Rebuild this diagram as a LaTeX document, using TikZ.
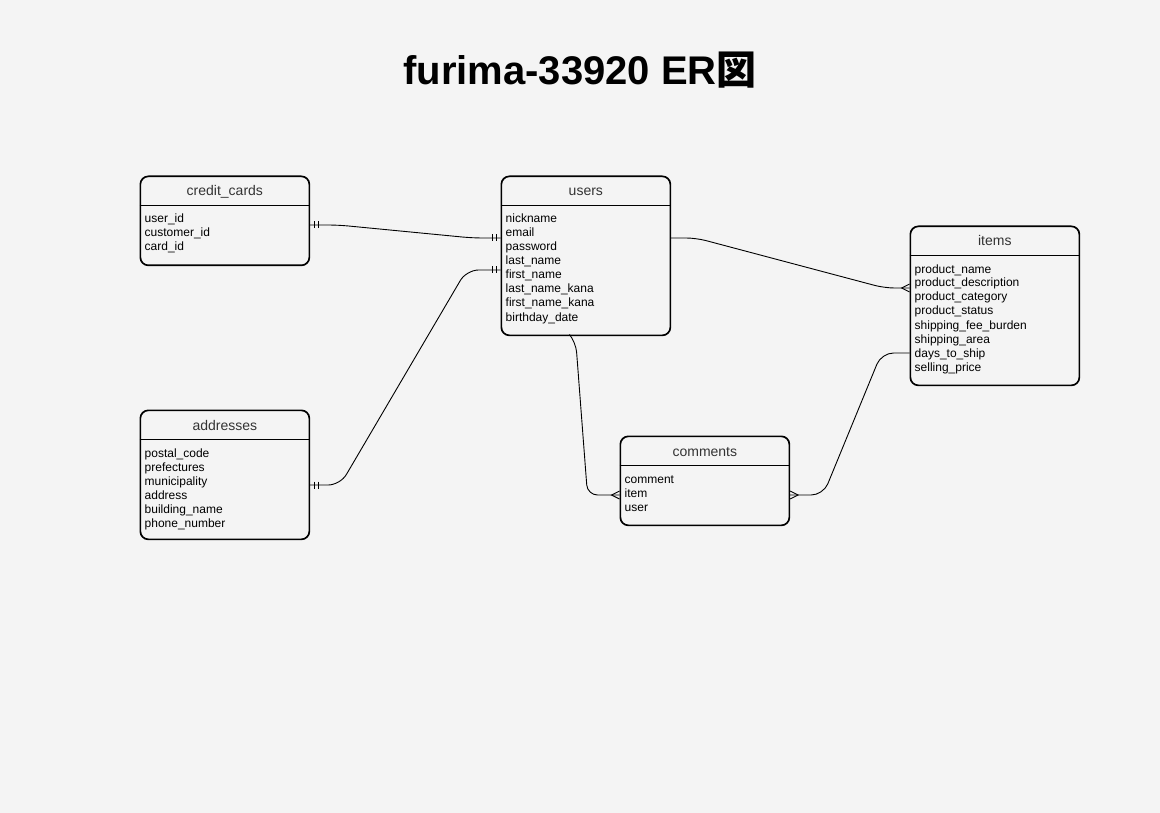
\documentclass[tikz,border=0pt]{standalone}
\usepackage{fontspec}
\setmainfont{Liberation Sans}
\newfontfamily\cjk{Noto Sans CJK JP}
\definecolor{bgc}{HTML}{F4F4F4}
\definecolor{headc}{HTML}{333333}
\newcommand\ertable[6]{%
  \node[tbl, minimum height=#4, anchor=north west] (#1) at (#2,#3) {};
  \draw[tblline] ([yshift=-30]#1.north west) -- ([yshift=-30]#1.north east);
  \node[tblhead, anchor=base] (#1-title) at ([yshift=-20.5]#1.north) {#5};
  \foreach \r [count=\i] in {#6} {
    \node[tblrow, anchor=base west] (#1-r\i) at ([xshift=5, yshift={-47.5-14*(\i-1)}]#1.north west) {\r};
  }%
}
\begin{document}
\begin{tikzpicture}[x=1pt,y=-1pt,
  tbl/.style={draw=black, line width=1.7pt, fill=bgc, rounded corners=8pt, minimum width=169pt, inner sep=0pt},
  tblline/.style={draw=black, line width=1.7pt},
  tblhead/.style={font=\fontsize{14}{16}\selectfont, text=headc, inner sep=0pt},
  tblrow/.style={font=\fontsize{12}{14}\selectfont, text=black, inner sep=0pt},
  conn/.style={draw=black, line width=0.9pt, rounded corners=10pt},
  endmark/.style={draw=black, line width=0.9pt},
  onemark/.pic={\draw[endmark] (4,-3.5) -- (4,3.5) (8,-3.5) -- (8,3.5);},
  manymark/.pic={\draw[endmark] (0,-4) -- (8,0) -- (0,4);}
]
\fill[bgc] (0,0) rectangle (1160,813);
\useasboundingbox (0,0) rectangle (1160,813);

\node[font=\fontsize{40}{48}\selectfont\bfseries, anchor=base, inner sep=0pt] (title) at (580,85) {furima-33920 ER{\cjk 図}};

\ertable{cc}{139.5}{175.5}{89}{credit\_cards}{user\_id,customer\_id,card\_id}
\ertable{users}{500.5}{175.5}{159}{users}{nickname,email,password,last\_name,first\_name,last\_name\_kana,first\_name\_kana,birthday\_date}
\ertable{items}{909.5}{225.5}{159}{items}{product\_name,product\_description,product\_category,product\_status,shipping\_fee\_burden,shipping\_area,days\_to\_ship,selling\_price}
\ertable{ad}{139.5}{409.5}{129}{addresses}{postal\_code,prefectures,municipality,address,building\_name,phone\_number}
\ertable{cm}{619.5}{435.5}{89}{comments}{comment,item,user}

% attachment points
\coordinate (ccR) at ([yshift=-49.5]cc.north east);
\coordinate (uL1) at ([yshift=-62.5]users.north west);
\coordinate (uL2) at ([yshift=-94.5]users.north west);
\coordinate (uR) at ([yshift=-62.5]users.north east);
\coordinate (uB) at ([xshift=-15]users.south);
\coordinate (adR) at ([yshift=-75.5]ad.north east);
\coordinate (iL1) at ([yshift=-62.5]items.north west);
\coordinate (iL2) at ([yshift=-127.5]items.north west);
\coordinate (cL) at ([yshift=-59.5]cm.north west);
\coordinate (cR) at ([yshift=-59.5]cm.north east);

% connectors
\draw[conn] (ccR) -- ++(28,0) -- ([xshift=-28]uL1) -- (uL1);
\draw[conn, rounded corners=12pt] (adR) -- ++(30,0) -- ([xshift=-34]uL2) -- (uL2);
\draw[conn] (uR) -- ++(25,0) -- ([xshift=-25]iL1) -- (iL1);
\draw[conn] (uB) -- ++(5,6) -- ([xshift=-32]cL) -- (cL);
\draw[conn, rounded corners=12pt] (iL2) -- ++(-28,0) -- ([xshift=33]cR) -- (cR);

% end marks
\pic at (ccR) {onemark};
\pic[xscale=-1] at (uL1) {onemark};
\pic[xscale=-1] at (uL2) {onemark};
\pic at (adR) {onemark};
\pic[xscale=-1] at (iL1) {manymark};
\pic[xscale=-1] at (cL) {manymark};
\pic at (cR) {manymark};
\end{tikzpicture}
\end{document}
